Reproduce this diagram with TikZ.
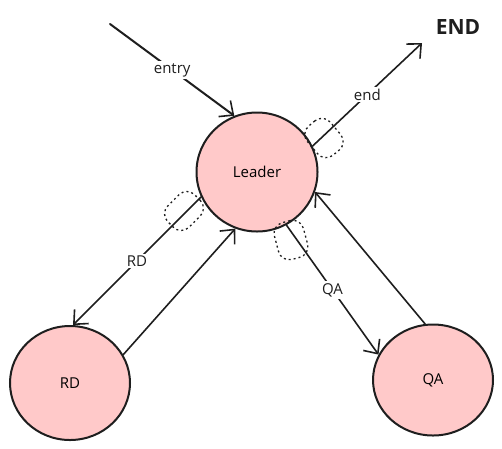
\documentclass[tikz,border=0pt]{standalone}
\usepackage{fontspec}
\setmainfont{Open Sans}
\usetikzlibrary{arrows.meta,shapes.geometric}
\definecolor{ink}{HTML}{1E1E1E}
\definecolor{pinkfill}{HTML}{FFC9C9}
\tikzset{
  state/.style={ellipse,draw=ink,line width=2pt,fill=pinkfill,inner sep=0pt,font=\fontsize{15}{17}\selectfont},
  conn/.style={draw=ink,line width=1.6pt,line cap=round,-{Straight Barb[length=11pt,width=20pt,line width=1.6pt]}},
  lbl/.style={fill=white,inner sep=2pt,font=\fontsize{15}{17}\selectfont,text=ink},
  bindbox/.style={draw=ink,dash pattern=on 2pt off 3pt,line width=1.3pt,rounded corners=11pt,minimum width=30pt,minimum height=38pt}
}
\begin{document}
\begin{tikzpicture}[x=1pt,y=-1pt]
\useasboundingbox (0,0) rectangle (502,448);
\node[state,minimum width=121pt,minimum height=119pt] (L) at (257,172) {Leader};
\node[state,minimum width=120pt,minimum height=114pt] (RD) at (70,383) {RD};
\node[state,minimum width=120pt,minimum height=111pt] (QA) at (433,380) {QA};
\node[font=\fontsize{21}{23}\selectfont\bfseries,text=ink] (E) at (458,27) {END};
\coordinate (start) at (110,24);
\coordinate (endtip) at (422,43);
% binding boxes
\node[bindbox,rotate=40] (b1) at (324,138) {};
\node[bindbox,rotate=-45] (b2) at (184,211) {};
\node[bindbox,rotate=15] (b3) at (291,240) {};
% connectors
\draw[conn,line width=2pt] (start) -- node[lbl]{entry} (L.112);
\draw[conn] (L.25) -- node[lbl]{end} (endtip);
\draw[conn] (L.204) -- node[lbl]{RD} (RD.87);
\draw[conn] (RD.28) -- (L.-111);
\draw[conn] (L.-61) -- node[lbl]{QA} (QA.155);
\draw[conn] (QA.98) -- (L.-19);
\end{tikzpicture}
\end{document}
